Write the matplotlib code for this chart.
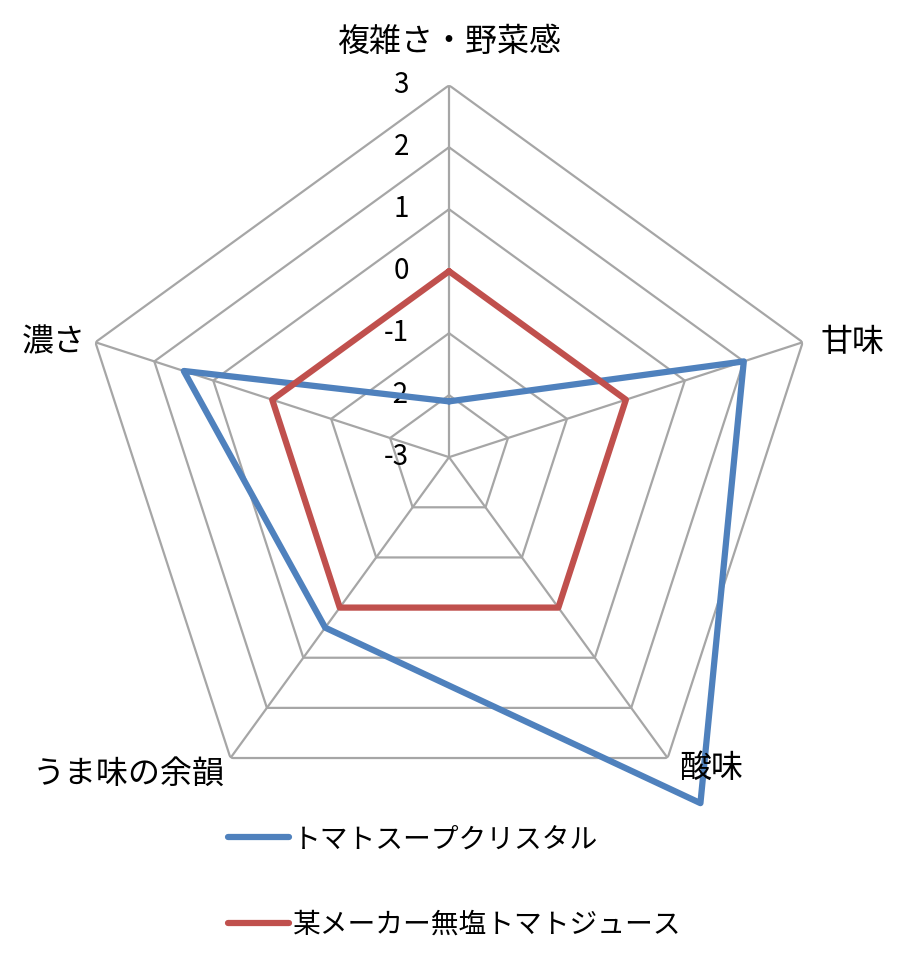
import numpy as np
import matplotlib
matplotlib.use("Agg")
import matplotlib.pyplot as plt

plt.rcParams['font.family'] = ['Noto Sans CJK JP', 'DejaVu Sans']

# データ
categories = ['複雑さ・野菜感', '甘味', '酸味', 'うま味の余韻', '濃さ']
series_names = ['トマトスープクリスタル', '某メーカー無塩トマトジュース']
crystal = [-2.1, 2.0, 3.9, 0.4, 1.5]
juice = [0, 0, 0, 0, 0]
levels = [-3, -2, -1, 0, 1, 2, 3]

colors = ['#4F81BD', '#C0504D']
grid_color = '#A6A6A6'

n = len(categories)
theta = np.arange(n) * 2 * np.pi / n
theta_closed = np.append(theta, theta[0])

fig = plt.figure(figsize=(9, 9.56), dpi=100)
ax = fig.add_axes([0.0856, 0.1328, 0.8267, 0.778], projection='polar')
ax.set_theta_offset(np.pi / 2)
ax.set_theta_direction(-1)
ax.set_ylim(levels[0], levels[-1])
ax.grid(False)
ax.spines['polar'].set_visible(False)
ax.set_xticks([])
ax.set_yticks([])
ax.patch.set_alpha(0)

# 五角形のグリッド
for lv in levels[1:]:
    ax.plot(theta_closed, [lv] * (n + 1), color=grid_color, lw=1.6, zorder=1)
for t in theta:
    ax.plot([t, t], [levels[0], levels[-1]], color=grid_color, lw=1.6, zorder=1)

# 目盛りラベル
for lv in levels:
    ax.annotate(str(lv), xy=(0, lv), xytext=(-29, 0), textcoords='offset points',
                ha='right', va='center', fontsize=20, annotation_clip=False)

# 系列
for vals, c, name, z in zip([crystal, juice], colors, series_names, [3, 4]):
    ax.plot(theta_closed, vals + vals[:1], color=c, lw=4.5, label=name,
            clip_on=False, zorder=z, solid_capstyle='round')

# 項目ラベル
offsets = [(0, 31, 'center', 'center'),
           (13, 0, 'left', 'center'),
           (8, -7, 'left', 'center'),
           (-4, -11, 'right', 'center'),
           (-7, 0, 'right', 'center')]
for t, lab, (dx, dy, ha, va) in zip(theta, categories, offsets):
    ax.annotate(lab, xy=(t, levels[-1]), xytext=(dx, dy), textcoords='offset points',
                ha=ha, va=va, fontsize=23, annotation_clip=False)

fig.legend(loc='upper left', bbox_to_anchor=(0.253, 0.138), frameon=False,
           fontsize=20, handlelength=2.2, handletextpad=0.15, labelspacing=2.0,
           borderpad=0, borderaxespad=0)

fig.savefig('out.png', dpi=100, facecolor='white')
